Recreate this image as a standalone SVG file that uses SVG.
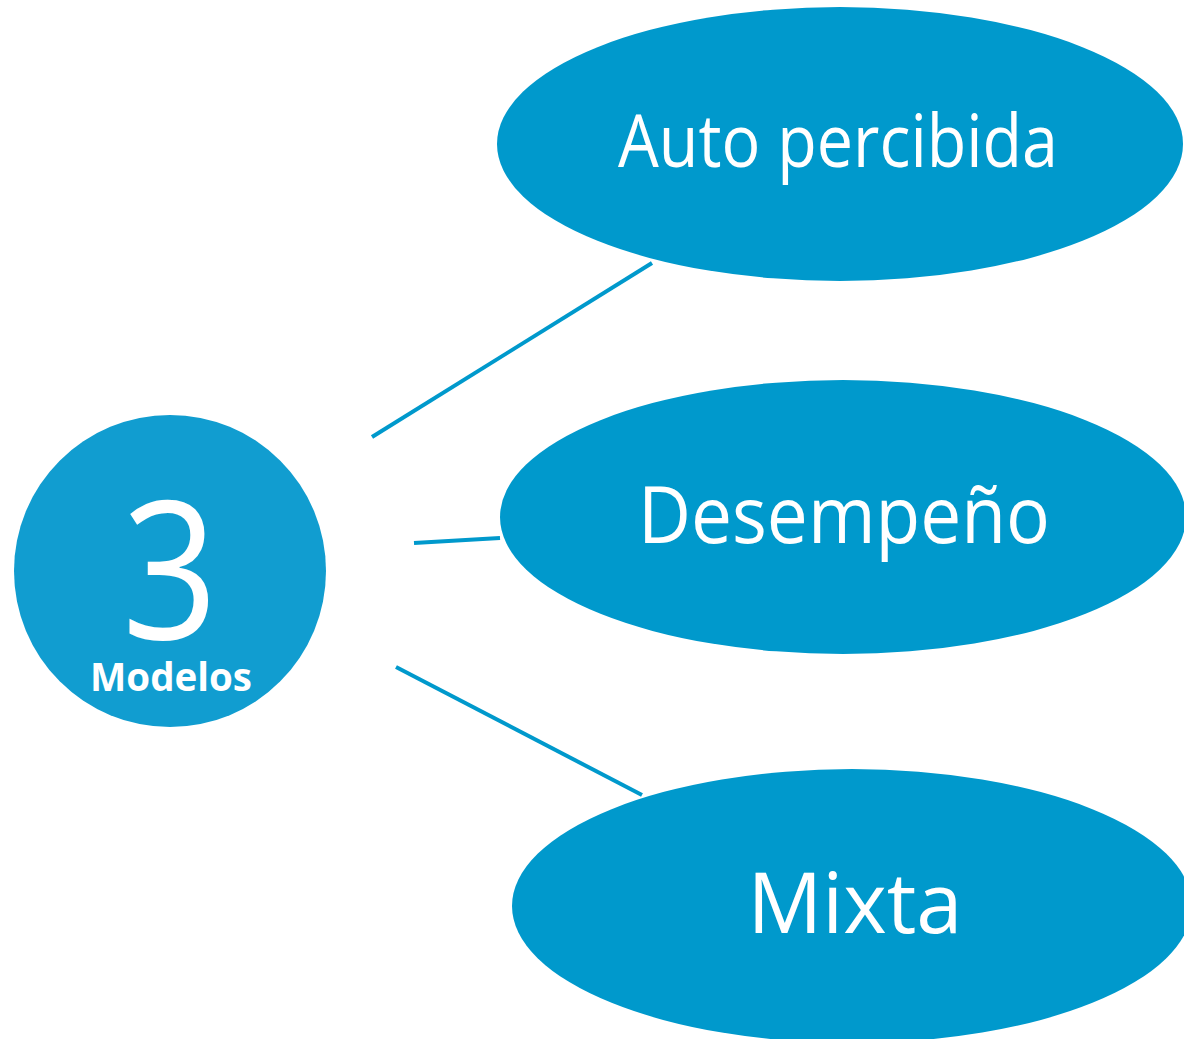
<svg xmlns="http://www.w3.org/2000/svg" width="1184" height="1039" viewBox="0 0 1184 1039">
<style>
.ell{fill:#0099cc}
.lbl{fill:#ffffff;font-family:"Open Sans","Liberation Sans",sans-serif;text-anchor:middle}
.conn{stroke:#0099cc;stroke-width:4;fill:none}
</style>
<rect width="1184" height="1039" fill="#ffffff"/>
<g id="connectors">
<line class="conn" x1="372" y1="437" x2="652" y2="263"/>
<line class="conn" x1="414" y1="543" x2="500" y2="538"/>
<line class="conn" x1="396" y1="667" x2="642" y2="795"/>
</g>
<g id="node-modelos">
<circle cx="170" cy="571" r="156" fill="#119dd0"/>
<text class="lbl" x="170" y="639" font-size="192" font-weight="500" textLength="96" lengthAdjust="spacingAndGlyphs">3</text>
<text class="lbl" x="171" y="691" font-size="40" font-weight="700" textLength="162" lengthAdjust="spacingAndGlyphs">Modelos</text>
</g>
<g id="node-auto">
<ellipse class="ell" cx="840" cy="144" rx="343" ry="137"/>
<text class="lbl" x="838" y="167" font-size="74" textLength="440" lengthAdjust="spacingAndGlyphs">Auto percibida</text>
</g>
<g id="node-desempeno">
<ellipse class="ell" cx="843" cy="517" rx="343" ry="137"/>
<text class="lbl" x="844" y="543" font-size="78" textLength="412" lengthAdjust="spacingAndGlyphs">Desempeño</text>
</g>
<g id="node-mixta">
<ellipse class="ell" cx="852" cy="906" rx="340" ry="137"/>
<text class="lbl" x="855" y="933" font-size="84" textLength="215" lengthAdjust="spacingAndGlyphs">Mixta</text>
</g>
</svg>
